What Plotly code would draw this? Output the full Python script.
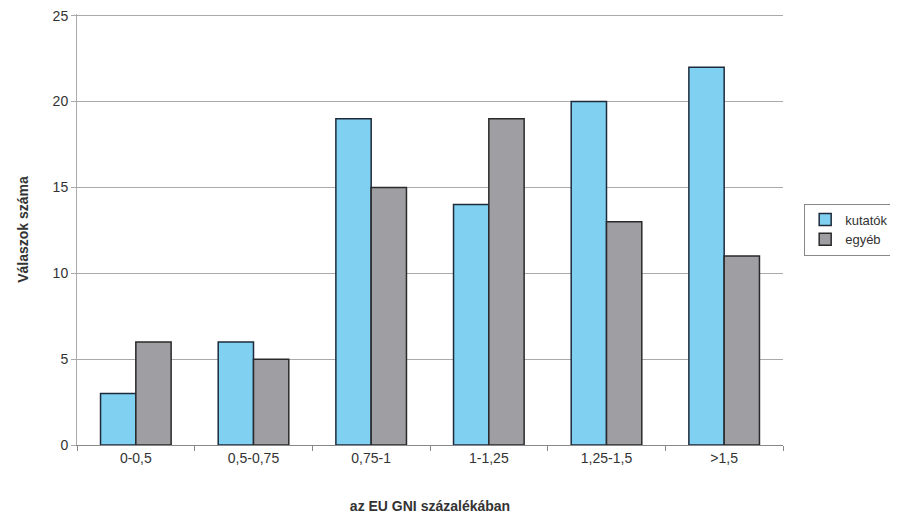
import plotly.graph_objects as go

categories = ["0-0,5", "0,5-0,75", "0,75-1", "1-1,25", "1,25-1,5", ">1,5"]
kutatok = [3, 6, 19, 14, 20, 22]
egyeb = [6, 5, 15, 19, 13, 11]

fig = go.Figure()
fig.add_trace(go.Bar(x=categories, y=kutatok, name="kutatók",
                     marker=dict(color="#80d0f2", line=dict(color="#1e2a3a", width=1.5))))
fig.add_trace(go.Bar(x=categories, y=egyeb, name="egyéb",
                     marker=dict(color="#9e9ea3", line=dict(color="#2a2a2a", width=1.5))))

fig.update_layout(
    width=890, height=513,
    margin=dict(l=69, r=115, t=6, b=76, autoexpand=False),
    paper_bgcolor="white", plot_bgcolor="white",
    barmode="group", bargap=0.4, bargroupgap=0,
    font=dict(family="Liberation Sans, Arial", size=14, color="#333"),
    legend=dict(x=1.03, y=0.5, xanchor="left", yanchor="middle",
                bordercolor="#888", borderwidth=1, font=dict(size=13),
                traceorder="normal", itemwidth=30, tracegroupgap=6),
    xaxis=dict(title=dict(text="<b>az EU GNI százalékában</b>", font=dict(size=14), standoff=36),
               showline=True, linecolor="#888", linewidth=1,
               ticks="outside", ticklen=5, tickcolor="#888", automargin=False,
               tickson="boundaries", showgrid=False),
    yaxis=dict(title=dict(text="<b>Válaszok száma</b>", font=dict(size=14), standoff=20),
               range=[0, 25.1], tickvals=[0, 5, 10, 15, 20, 25], showline=True, linecolor="#aaa", linewidth=1,
               gridcolor="#aaa", gridwidth=1, ticks="outside", ticklen=5, tickcolor="#aaa",
               zeroline=False, automargin=False, ticklabeloverflow="allow"),
)
fig.write_html("out.html")
